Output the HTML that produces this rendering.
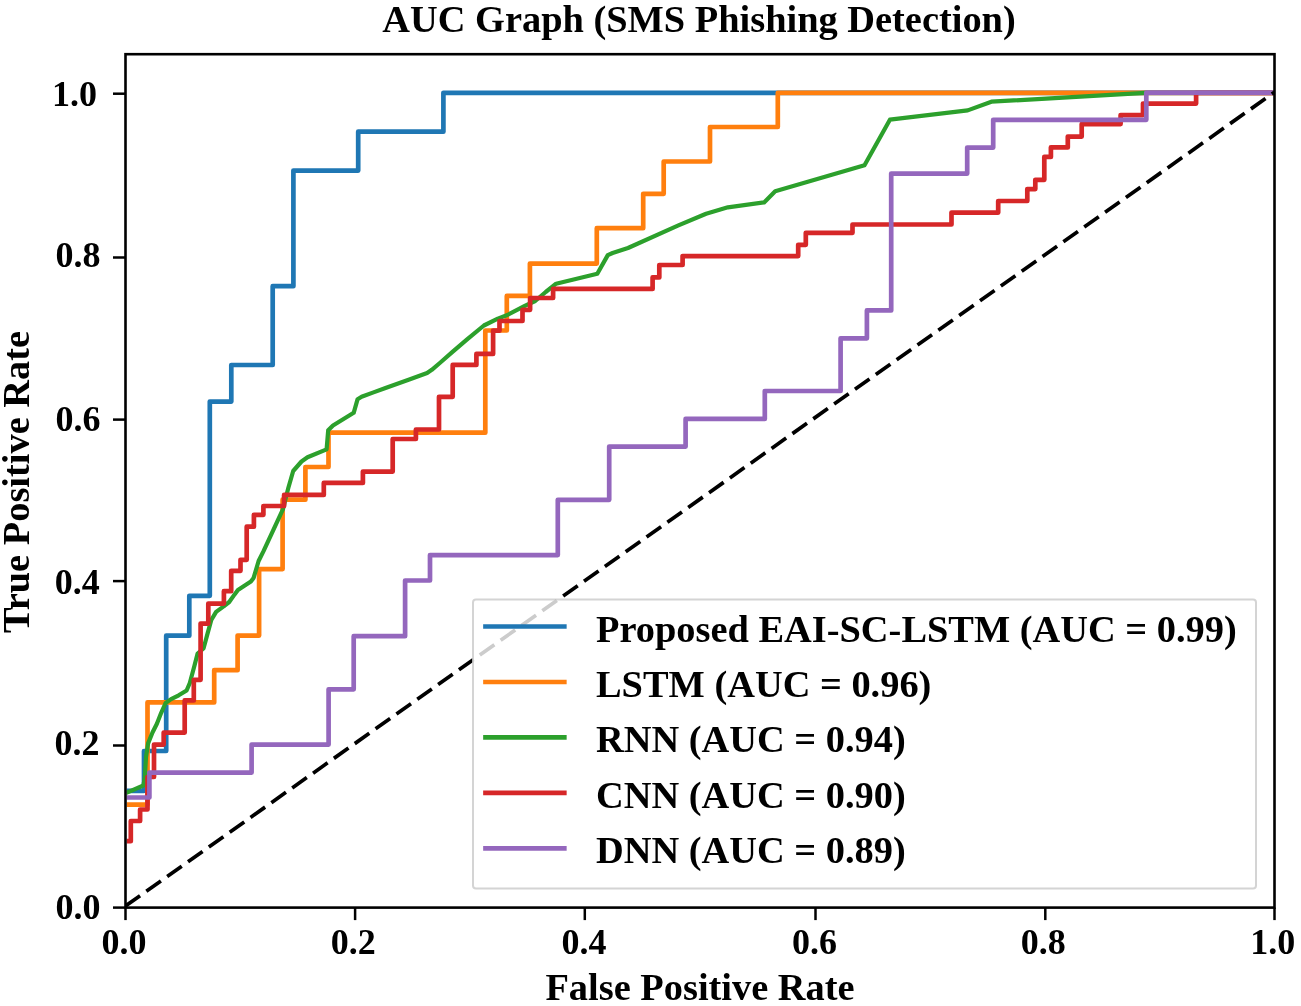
<!DOCTYPE html>
<html><head><meta charset="utf-8"><style>
html,body{margin:0;padding:0;background:#fff;}
svg{display:block;will-change:transform;}
text{font-family:"Liberation Serif",serif;font-weight:bold;fill:#000;}
</style></head><body>
<svg width="1301" height="1006" viewBox="0 0 1301 1006">
<rect x="0" y="0" width="1301" height="1006" fill="#fff"/>
<defs><clipPath id="ax"><rect x="126.8" y="54.2" width="1147.7" height="853.4"/></clipPath>
<clipPath id="ax2"><rect x="125.5" y="54.2" width="1149.0" height="853.4"/></clipPath></defs>

<g clip-path="url(#ax)" fill="none" stroke-linejoin="round" stroke-linecap="square">
<polyline points="125.5,790.9 144.0,790.9 144.0,751.0 166.2,751.0 166.2,635.7 189.3,635.7 189.3,595.8 209.8,595.8 209.8,401.6 231.3,401.6 231.3,365.0 272.7,365.0 272.7,286.2 293.4,286.2 293.4,170.6 358.2,170.6 358.2,131.7 443.4,131.7 443.4,92.8 1274.5,92.8" stroke="#1f77b4" stroke-width="4.7"/>
<polyline points="125.5,804.7 147.5,804.7 147.5,702.4 214.2,702.4 214.2,670.2 237.6,670.2 237.6,635.6 259.1,635.6 259.1,569.1 282.6,569.1 282.6,499.7 305.4,499.7 305.4,467.0 328.5,467.0 328.5,432.7 485.3,432.7 485.3,330.5 506.8,330.5 506.8,295.9 529.9,295.9 529.9,263.6 596.8,263.6 596.8,228.2 643.2,228.2 643.2,193.8 663.7,193.8 663.7,161.5 710.0,161.5 710.0,127.0 777.8,127.0 777.8,92.8 1274.5,92.8" stroke="#ff7f0e" stroke-width="4.7"/>
<polyline points="125.5,793.3 143.4,785.5 144.8,778.0 146.0,757.0 148.1,743.4 152.5,732.5 156.9,723.7 161.2,712.8 165.6,703.0 171.1,699.1 178.7,695.3 186.6,690.5 189.8,683.0 194.5,665.5 197.6,653.5 203.5,648.5 205.3,642.0 207.6,633.4 211.3,620.0 216.1,611.9 223.7,606.4 229.2,602.0 234.6,594.4 237.9,590.0 250.9,581.5 253.6,577.9 258.6,561.0 263.4,551.4 282.9,509.4 288.3,488.0 293.2,471.0 301.5,461.5 307.5,457.3 326.6,449.4 328.2,430.3 333.0,425.5 353.7,412.8 357.6,399.2 361.6,396.8 372.8,392.6 385.5,388.0 410.0,379.3 427.1,373.0 431.8,369.8 439.8,363.0 452.5,351.8 466.8,339.6 483.9,325.5 497.8,318.6 507.4,315.0 524.8,305.9 535.2,301.0 545.7,292.0 556.1,283.7 597.3,273.8 607.8,255.1 612.6,253.0 628.0,248.0 678.4,225.4 706.1,213.7 727.9,207.3 764.1,202.4 775.2,191.3 864.5,165.3 889.9,119.7 967.7,110.4 991.4,101.7 1145.0,92.8 1274.5,92.8" stroke="#2ca02c" stroke-width="4.2"/>
<polyline points="125.5,841.2 130.8,841.2 130.8,821.0 140.1,821.0 140.1,809.5 147.5,809.5 147.5,777.0 154.0,777.0 154.0,744.6 163.7,744.6 163.7,732.6 184.7,732.6 184.7,700.4 193.8,700.4 193.8,679.8 200.6,679.8 200.6,623.6 208.3,623.6 208.3,603.6 223.9,603.6 223.9,591.2 231.2,591.2 231.2,570.8 240.5,570.8 240.5,559.8 246.7,559.8 246.7,526.7 253.9,526.7 253.9,514.8 263.4,514.8 263.4,506.0 284.1,506.0 284.1,494.9 323.8,494.9 323.8,482.9 362.9,482.9 362.9,471.6 392.7,471.6 392.7,439.0 415.9,439.0 415.9,429.5 439.0,429.5 439.0,396.8 452.7,396.8 452.7,364.9 476.4,364.9 476.4,353.9 493.1,353.9 493.1,330.7 499.5,330.7 499.5,321.0 522.5,321.0 522.5,309.8 530.1,309.8 530.1,298.0 553.1,298.0 553.1,288.9 652.6,288.9 652.6,277.4 659.3,277.4 659.3,265.0 682.6,265.0 682.6,256.1 798.2,256.1 798.2,244.8 805.8,244.8 805.8,232.8 852.5,232.8 852.5,224.5 951.5,224.5 951.5,212.6 998.2,212.6 998.2,201.0 1027.3,201.0 1027.3,189.1 1035.3,189.1 1035.3,179.8 1044.3,179.8 1044.3,156.9 1050.9,156.9 1050.9,147.4 1067.8,147.4 1067.8,136.6 1081.7,136.6 1081.7,124.1 1120.6,124.1 1120.6,115.1 1143.0,115.1 1143.0,103.6 1196.1,103.6 1196.1,92.8 1274.5,92.8" stroke="#d62728" stroke-width="4.7"/>
<polyline points="125.5,797.5 149.4,797.5 149.4,772.6 251.6,772.6 251.6,744.6 328.6,744.6 328.6,689.3 353.7,689.3 353.7,636.2 405.1,636.2 405.1,580.5 430.0,580.5 430.0,555.1 557.8,555.1 557.8,499.8 609.2,499.8 609.2,446.6 685.6,446.6 685.6,418.9 764.8,418.9 764.8,391.0 840.6,391.0 840.6,338.3 866.9,338.3 866.9,310.4 891.2,310.4 891.2,173.6 967.2,173.6 967.2,147.6 993.2,147.6 993.2,119.8 1146.3,119.8 1146.3,92.7 1274.5,92.7" stroke="#9467bd" stroke-width="4.7"/>
</g>
<g clip-path="url(#ax2)" fill="none">
<line x1="125.5" y1="906.0" x2="1274.5" y2="92.2" stroke="#000" stroke-width="3.7" stroke-dasharray="17.83 7.71" stroke-linecap="butt"/>
</g>
<rect x="473.0" y="599.6" width="783.0" height="288.9" rx="3" ry="3" fill="#fff" fill-opacity="0.8" stroke="#cccccc" stroke-opacity="0.85" stroke-width="2"/>
<line x1="485.5" y1="626.5" x2="564.3" y2="626.5" stroke="#1f77b4" stroke-width="4.7" stroke-linecap="square"/>
<text x="596" y="641.5" font-size="38.4">Proposed EAI-SC-LSTM (AUC = 0.99)</text>
<line x1="485.5" y1="682.0" x2="564.3" y2="682.0" stroke="#ff7f0e" stroke-width="4.7" stroke-linecap="square"/>
<text x="596" y="697.0" font-size="38.4">LSTM (AUC = 0.96)</text>
<line x1="485.5" y1="737.3" x2="564.3" y2="737.3" stroke="#2ca02c" stroke-width="4.7" stroke-linecap="square"/>
<text x="596" y="752.3" font-size="38.4">RNN (AUC = 0.94)</text>
<line x1="485.5" y1="792.8" x2="564.3" y2="792.8" stroke="#d62728" stroke-width="4.7" stroke-linecap="square"/>
<text x="596" y="807.8" font-size="38.4">CNN (AUC = 0.90)</text>
<line x1="485.5" y1="848.4" x2="564.3" y2="848.4" stroke="#9467bd" stroke-width="4.7" stroke-linecap="square"/>
<text x="596" y="863.4" font-size="38.4">DNN (AUC = 0.89)</text>
<g stroke="#000" stroke-width="2.6" fill="none" stroke-linecap="square">
<rect x="125.5" y="54.2" width="1149.0" height="853.4" stroke-linejoin="miter"/>
</g>
<g stroke="#000" stroke-width="2.5">
<line x1="113.0" y1="907.6" x2="125.5" y2="907.6"/>
<line x1="113.0" y1="745.5" x2="125.5" y2="745.5"/>
<line x1="113.0" y1="581.1" x2="125.5" y2="581.1"/>
<line x1="113.0" y1="419.6" x2="125.5" y2="419.6"/>
<line x1="113.0" y1="257.5" x2="125.5" y2="257.5"/>
<line x1="113.0" y1="93.7" x2="125.5" y2="93.7"/>
<line x1="125.5" y1="907.6" x2="125.5" y2="920.1"/>
<line x1="355.1" y1="907.6" x2="355.1" y2="920.1"/>
<line x1="584.8" y1="907.6" x2="584.8" y2="920.1"/>
<line x1="815.5" y1="907.6" x2="815.5" y2="920.1"/>
<line x1="1045.3" y1="907.6" x2="1045.3" y2="920.1"/>
<line x1="1274.5" y1="907.6" x2="1274.5" y2="920.1"/>
</g>
<text x="100.40" y="919.40" font-size="36" text-anchor="end">0.0</text>
<text x="99.60" y="754.75" font-size="36" text-anchor="end">0.2</text>
<text x="99.75" y="593.50" font-size="36" text-anchor="end">0.4</text>
<text x="100.40" y="431.25" font-size="36" text-anchor="end">0.6</text>
<text x="100.40" y="267.05" font-size="36" text-anchor="end">0.8</text>
<text x="97.10" y="105.55" font-size="36" text-anchor="end">1.0</text>
<text x="124.10" y="954.2" font-size="36" text-anchor="middle">0.0</text>
<text x="353.30" y="954.2" font-size="36" text-anchor="middle">0.2</text>
<text x="584.00" y="954.2" font-size="36" text-anchor="middle">0.4</text>
<text x="814.60" y="954.2" font-size="36" text-anchor="middle">0.6</text>
<text x="1043.20" y="954.2" font-size="36" text-anchor="middle">0.8</text>
<text x="1272.70" y="954.2" font-size="36" text-anchor="middle">1.0</text>
<text x="699" y="31.6" font-size="38.4" text-anchor="middle">AUC Graph (SMS Phishing Detection)</text>
<text x="700" y="999.6" font-size="38.4" text-anchor="middle">False Positive Rate</text>
<text transform="translate(28.6,482) rotate(-90)" x="0" y="0" font-size="38.4" text-anchor="middle">True Positive Rate</text>
</svg></body></html>
